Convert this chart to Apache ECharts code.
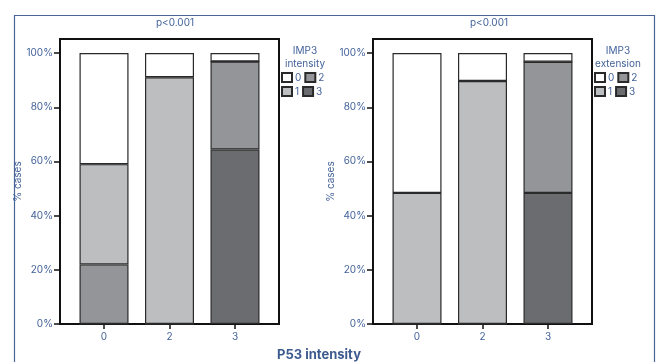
<!DOCTYPE html>
<html><head><meta charset="utf-8">
<script src="https://cdn.jsdelivr.net/npm/echarts@6/dist/echarts.min.js"></script>
<style>html,body{margin:0;padding:0;background:#fff}#c{width:657px;height:362px}</style>
</head><body><div id="c"></div>
<script>
const categories = ['0', '2', '3'];
const yTicks = [0, 20, 40, 60, 80, 100];
const legendOrder = ['0', '2', '1', '3'];
// IMP3 intensity (left panel), % cases per P53 intensity
const intensity0 = [41, 8.9, 3.1];
const intensity1 = [37, 91.1, 0];
const intensity2 = [22, 0, 32.5];
const intensity3 = [0, 0, 64.4];
// IMP3 extension (right panel)
const extension0 = [51.6, 10.3, 3.2];
const extension1 = [48.4, 89.7, 0];
const extension2 = [0, 0, 48.4];
const extension3 = [0, 0, 48.4];

const TXT = '#44639a';
const FONT = 'Inter, "DejaVu Sans", sans-serif';
const colors = {'0': '#ffffff', '1': '#bdbec0', '2': '#939598', '3': '#6b6c70'};
const catIdx = categories.map((c, i) => i);

function mkX(gi) {
  return {
    type: 'value', gridIndex: gi, min: -0.672, max: 2.672,
    splitLine: {show: false},
    axisLine: {show: true, onZero: false, lineStyle: {color: '#111', width: 2}},
    axisTick: {show: true, customValues: catIdx, length: 5, lineStyle: {color: '#111', width: 1.5}},
    axisLabel: {customValues: catIdx, formatter: v => categories[Math.round(v)], color: TXT, fontSize: 10, fontFamily: FONT, margin: 8}
  };
}
function mkY(gi) {
  return {
    type: 'value', gridIndex: gi, min: 0, max: 105.2,
    name: '% cases', nameLocation: 'middle', nameGap: 25, nameRotate: 90,
    nameTextStyle: {color: TXT, fontSize: 10, fontFamily: FONT},
    splitLine: {show: false},
    axisLine: {show: true, onZero: false, lineStyle: {color: '#111', width: 2}},
    axisTick: {show: true, customValues: yTicks, length: 6, lineStyle: {color: '#111', width: 1.5}},
    axisLabel: {customValues: yTicks, formatter: v => v + '%', color: TXT, fontSize: 10, fontFamily: FONT, margin: 7}
  };
}
function mkSeries(name, vals, gi, stack) {
  return {
    name: name, type: 'bar', stack: stack, xAxisIndex: gi, yAxisIndex: gi,
    barWidth: 49,
    dimensions: ['pct', 'pos'],
    encode: {x: 'pos', y: 'pct'},
    data: vals.map((v, i) => [v, i]),
    itemStyle: {color: colors[name], borderColor: '#2a2a2a', borderWidth: 1.2},
    emphasis: {disabled: true}
  };
}
function mkLegend(left) {
  return {
    data: legendOrder, left: left, top: 72, width: 46, orient: 'horizontal', padding: 0,
    itemWidth: 10, itemHeight: 9, itemGap: 3, icon: 'rect',
    textStyle: {color: TXT, fontSize: 10, fontFamily: FONT, padding: [0, 0, 0, -2]},
    selectedMode: false
  };
}
function mkTitle(text, x, y, size, weight, color) {
  return {text: text, left: x, top: y, padding: 0, textAlign: 'center',
    textStyle: {color: color || TXT, fontSize: size, fontWeight: weight || 'normal', fontFamily: FONT, lineHeight: 13, align: 'center'}};
}

const chart = echarts.init(document.getElementById('c'), null, {renderer: 'canvas'});
chart.setOption({
  animation: false,
  backgroundColor: '#fff',
  title: [
    mkTitle('p<0.001', 175, 16, 10),
    mkTitle('p<0.001', 489, 16, 10),
    mkTitle('IMP3\nintensity', 305, 44, 10),
    mkTitle('IMP3\nextension', 618, 44, 10),
    {text: 'P53 intensity', left: 319, top: 349, padding: 0, textAlign: 'center',
     textStyle: {color: '#3d5b8f', fontSize: 13, fontWeight: 'bold', fontFamily: FONT}}
  ],
  legend: [mkLegend(281), mkLegend(594)],
  grid: [
    {left: 60, top: 39, width: 219, height: 285, show: true, borderColor: '#111', borderWidth: 2, backgroundColor: '#fff'},
    {left: 373, top: 39, width: 219, height: 285, show: true, borderColor: '#111', borderWidth: 2, backgroundColor: '#fff'}
  ],
  xAxis: [mkX(0), mkX(1)],
  yAxis: [mkY(0), mkY(1)],
  graphic: [{
    type: 'rect', left: 12, top: 13, z: -10, silent: true,
    shape: {width: 640, height: 360},
    style: {fill: null, stroke: '#4a6595', lineWidth: 1.2}
  }],
  series: [
    mkSeries('3', intensity3, 0, 'a'),
    mkSeries('2', intensity2, 0, 'a'),
    mkSeries('1', intensity1, 0, 'a'),
    mkSeries('0', intensity0, 0, 'a'),
    mkSeries('3', extension3, 1, 'b'),
    mkSeries('2', extension2, 1, 'b'),
    mkSeries('1', extension1, 1, 'b'),
    mkSeries('0', extension0, 1, 'b')
  ]
});
</script></body></html>
